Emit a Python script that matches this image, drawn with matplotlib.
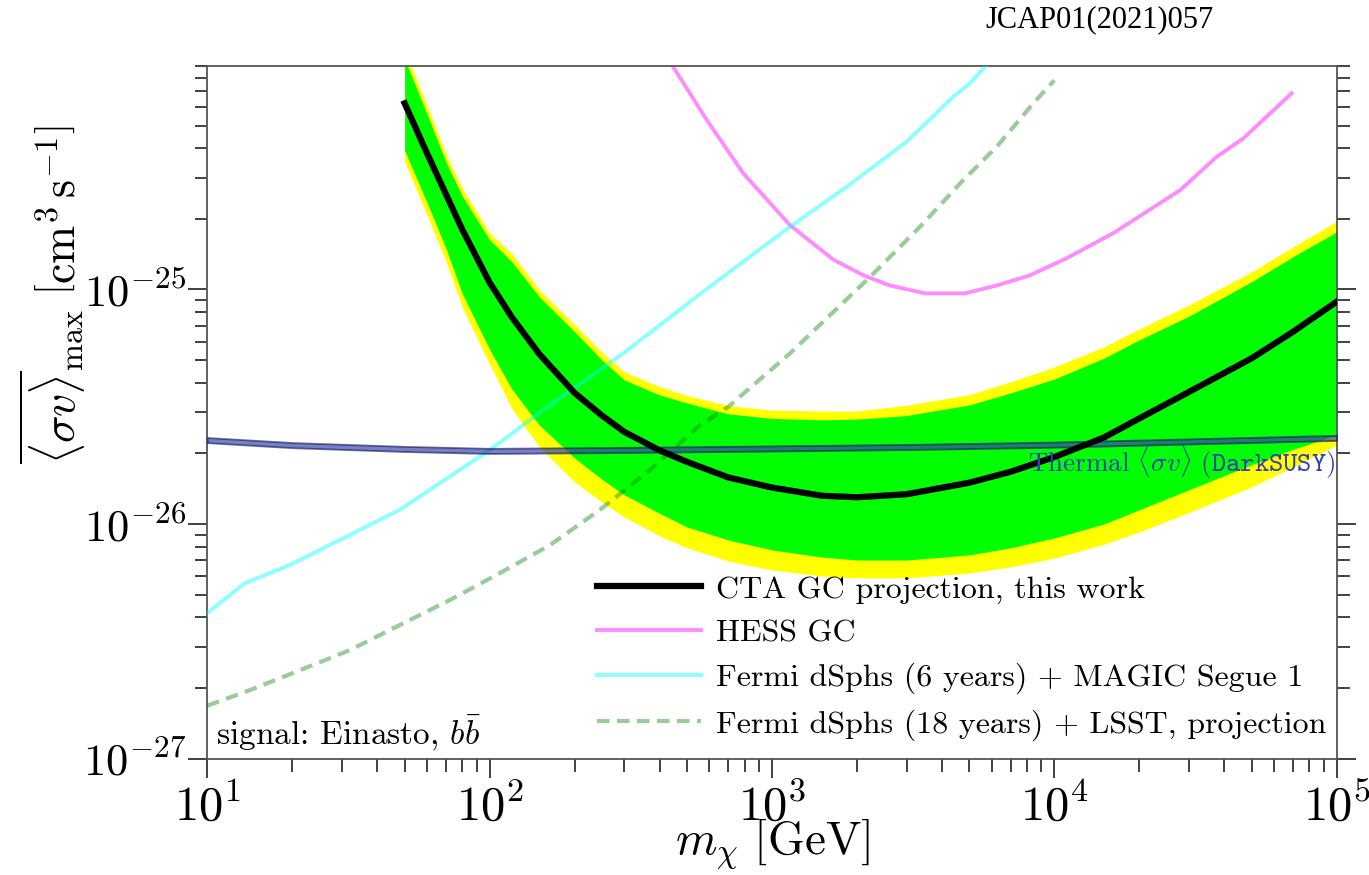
import numpy as np
import matplotlib
matplotlib.use('Agg')
import matplotlib.pyplot as plt

plt.rcParams['mathtext.fontset'] = 'cm'
plt.rcParams['font.family'] = 'serif'
plt.rcParams['font.serif'] = ['cmr10', 'DejaVu Serif']
plt.rcParams['axes.formatter.use_mathtext'] = True

# CTA GC projection (median, 1 and 2 sigma containment)
cta_mass = [50, 60, 70, 80, 100, 120, 150, 200, 250, 300, 400, 500, 700, 1000, 1500,
            2000, 3000, 5000, 7000, 1e4, 1.5e4, 2e4, 3e4, 5e4, 7e4, 1e5]
cta_median = [6.22e-25, 3.81e-25, 2.55e-25, 1.80e-25, 1.07e-25, 7.6e-26, 5.3e-26,
              3.62e-26, 2.90e-26, 2.47e-26, 2.06e-26, 1.84e-26, 1.58e-26, 1.43e-26,
              1.32e-26, 1.30e-26, 1.34e-26, 1.50e-26, 1.67e-26, 1.93e-26, 2.34e-26,
              2.82e-26, 3.66e-26, 5.09e-26, 6.6e-26, 8.87e-26]
cta_1s_up = [9.6e-25, 5.6e-25, 3.5e-25, 2.5e-25, 1.63e-25, 1.31e-25, 9.3e-26, 6.6e-26,
             5.0e-26, 4.11e-26, 3.55e-26, 3.28e-26, 2.95e-26, 2.82e-26, 2.78e-26,
             2.8e-26, 2.9e-26, 3.22e-26, 3.62e-26, 4.15e-26, 5.1e-26, 6.1e-26, 7.7e-26,
             1.08e-25, 1.38e-25, 1.76e-25]
cta_2s_up = [1.05e-24, 6.1e-25, 3.8e-25, 2.7e-25, 1.74e-25, 1.42e-25, 9.95e-26, 7.09e-26,
             5.4e-26, 4.45e-26, 3.85e-26, 3.53e-26, 3.2e-26, 3.06e-26, 3.03e-26,
             3.03e-26, 3.21e-26, 3.56e-26, 4.04e-26, 4.67e-26, 5.7e-26, 6.79e-26, 8.6e-26,
             1.19e-25, 1.52e-25, 1.95e-25]
cta_1s_lo = [3.91e-25, 2.35e-25, 1.50e-25, 9.6e-26, 5.55e-26, 3.75e-26, 2.64e-26, 1.91e-26,
             1.55e-26, 1.33e-26, 1.11e-26, 9.71e-27, 8.55e-27, 7.75e-27, 7.23e-27,
             7.02e-27, 7.02e-27, 7.38e-27, 7.91e-27, 8.72e-27, 1.0e-26, 1.15e-26,
             1.40e-26, 1.79e-26, 2.08e-26, 2.40e-26]
cta_2s_lo = [3.51e-25, 2.08e-25, 1.32e-25, 8.4e-26, 4.8e-26, 3.1e-26, 2.13e-26, 1.51e-26,
             1.24e-26, 1.07e-26, 8.9e-27, 7.91e-27, 6.95e-27, 6.37e-27, 6.00e-27,
             5.89e-27, 5.89e-27, 6.18e-27, 6.56e-27, 7.16e-27, 8.2e-27, 9.25e-27,
             1.12e-26, 1.44e-26, 1.75e-26, 2.17e-26]

# HESS GC limit
hess_mass = [420, 587, 791, 1158, 1649, 2105, 2617, 3483, 4826, 6250, 8204, 11070,
             16180, 27870, 37580, 46700, 69300]
hess_sv = [1.0e-24, 5.29e-25, 3.13e-25, 1.88e-25, 1.34e-25, 1.15e-25, 1.04e-25, 9.63e-26,
           9.63e-26, 1.04e-25, 1.15e-25, 1.36e-25, 1.74e-25, 2.65e-25, 3.68e-25,
           4.41e-25, 6.87e-25]

# Fermi dSphs (6 years) + MAGIC Segue 1
fm_mass = [10, 13.6, 19.6, 29.5, 48.1, 100.2, 154.8, 297, 603, 1158, 1839, 3000,
           4388, 5025, 5680, 6400]
fm_sv = [4.17e-27, 5.60e-27, 6.68e-27, 8.55e-27, 1.15e-26, 2.07e-26, 3.06e-26, 5.34e-26,
         1.03e-25, 1.85e-25, 2.74e-25, 4.27e-25, 6.64e-25, 7.57e-25, 8.91e-25, 1.05e-24]

# Fermi dSphs (18 years) + LSST projection
lsst_mass = [10, 14.2, 21.3, 32.0, 48.1, 72.3, 108.8, 163.6, 246, 370, 556, 700, 1158,
             2223, 3342, 4760, 6250, 8420, 1e4]
lsst_sv = [1.68e-27, 1.96e-27, 2.38e-27, 2.90e-27, 3.71e-27, 4.74e-27, 6.18e-27, 8.13e-27,
           1.15e-26, 1.70e-26, 2.64e-26, 3.16e-26, 5.34e-26, 1.13e-25, 1.85e-25, 2.93e-25,
           4.06e-25, 6.22e-25, 7.8e-25]

# thermal relic cross section (DarkSUSY)
th_mass = [10, 20, 50, 100, 300, 1000, 3000, 1e4, 3e4, 1e5]
th_sv = [2.28e-26, 2.17e-26, 2.09e-26, 2.05e-26, 2.07e-26, 2.10e-26, 2.13e-26, 2.18e-26,
         2.25e-26, 2.33e-26]

fig = plt.figure(figsize=(13.69, 8.75), dpi=100)
ax = fig.add_axes([207.3 / 1369, 1 - 758.5 / 875, 1129.4 / 1369, 692.8 / 875])

ax.fill_between(cta_mass, cta_2s_lo, cta_2s_up, color='#ffff00', lw=0, zorder=1)
ax.fill_between(cta_mass, cta_1s_lo, cta_1s_up, color='#00ff00', lw=0, zorder=2)
ax.plot(cta_mass, cta_median, color='k', lw=4.5, zorder=6,
        label='CTA GC projection, this work')
ax.plot(hess_mass, hess_sv, color='magenta', alpha=0.45, lw=2.8, zorder=4, label='HESS GC')
ax.plot(fm_mass, fm_sv, color='cyan', alpha=0.45, lw=2.8, zorder=4,
        label='Fermi dSphs (6 years) + MAGIC Segue 1')
ax.plot(lsst_mass, lsst_sv, color='green', alpha=0.4, lw=3, ls=(0, (3, 1.8)), zorder=4,
        label='Fermi dSphs (18 years) + LSST, projection')

th = np.array(th_sv)
ax.fill_between(th_mass, th * 0.975, th * 1.025, color='#2e3caa', alpha=0.65,
                edgecolor='#1a2060', lw=1.3, zorder=5)

ax.text(0.9985, 0.428, r'Thermal $\langle\sigma v\rangle$ $\mathtt{(DarkSUSY)}$',
        transform=ax.transAxes, ha='right', va='center', fontsize=19.5, color='#333fb2',
        zorder=7)
ax.text(0.008, 0.008, r'signal: Einasto, $b\bar{b}$', transform=ax.transAxes,
        ha='left', va='bottom', fontsize=24)

ax.set_xscale('log')
ax.set_yscale('log')
ax.set_xlim(10, 1e5)
ax.set_ylim(1e-27, 9e-25)
ax.set_xlabel(r'$m_\chi\ [\mathrm{GeV}]$', fontsize=34)
ax.set_ylabel(r'$\overline{\langle\sigma v\rangle}_{\rm max}\ \left[{\rm cm}^3\,{\rm s}^{-1}\right]$',
              fontsize=33)
ax.xaxis.set_label_coords(0.5, -0.085)
ax.yaxis.set_label_coords(-0.106, 0.67)

ax.tick_params(which='both', direction='out', right=True, top=False,
               width=1.3, color='#333333')
ax.tick_params(axis='x', labelsize=35, pad=4)
ax.tick_params(axis='y', labelsize=32, pad=1)
ax.tick_params(which='major', length=14)
ax.tick_params(which='minor', length=9)
for s in ax.spines.values():
    s.set_color('#555555')
    s.set_linewidth(1.3)

ax.legend(loc='lower right', frameon=False, fontsize=23, handlelength=3.25,
          handletextpad=0.45, labelspacing=0.48, borderaxespad=0.0,
          bbox_to_anchor=(1.002, 0.007))

fig.text(0.72, 0.977, 'JCAP01(2021)057', fontsize=22, family='Liberation Serif',
         ha='left', va='center')

fig.savefig('out.png', dpi=100)
